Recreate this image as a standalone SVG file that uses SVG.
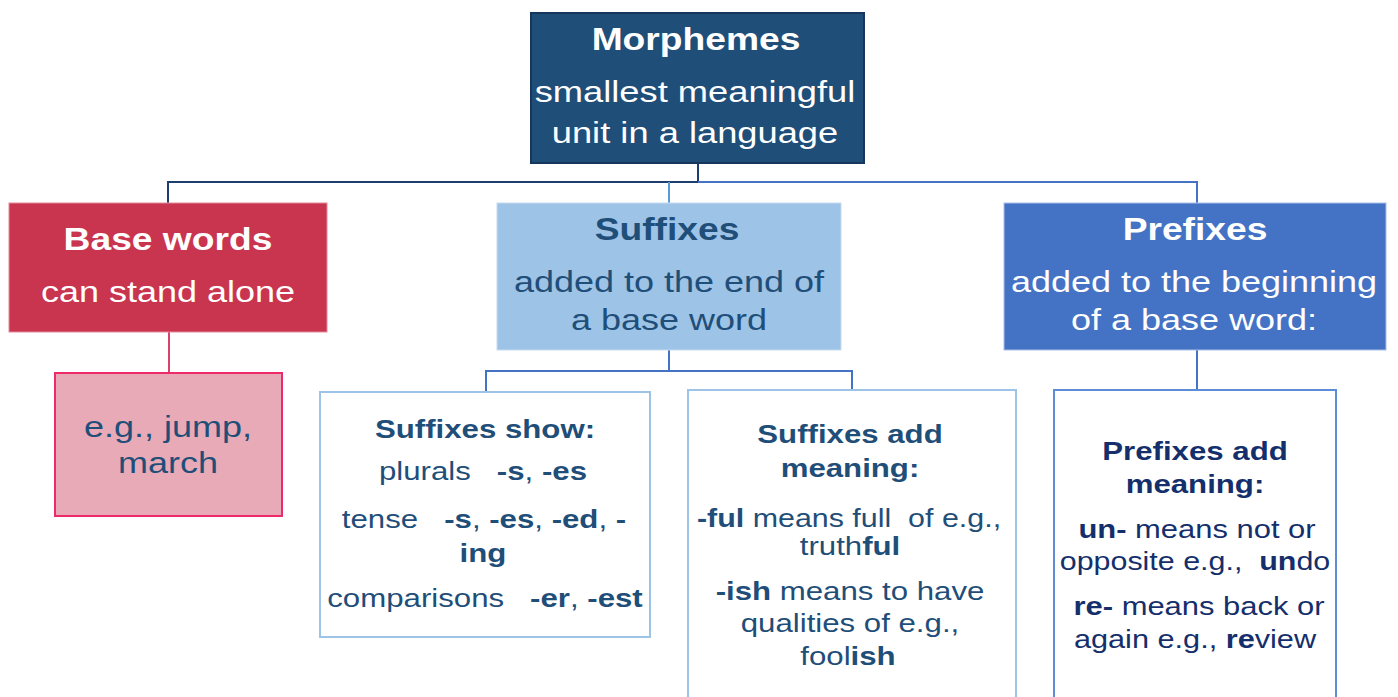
<svg xmlns="http://www.w3.org/2000/svg" width="1398" height="697" viewBox="0 0 1398 697">
<style>
text{font-family:"Liberation Sans",Arial,sans-serif;text-anchor:middle}
.w{fill:#ffffff}
.n{fill:#1f4e79}
.d{fill:#142f6b}
.b{font-weight:bold}
.t1{font-size:31px}
.t2{font-size:30px}
.s1{font-size:26px}
.s2{font-size:26px}
.conn line{stroke-width:2;fill:none}
</style>
<rect width="1398" height="697" fill="#ffffff"/>
<g id="connectors" class="conn">
<line x1="698" y1="163" x2="698" y2="182" stroke="#1f3e70"/>
<line x1="167" y1="182" x2="698" y2="182" stroke="#1f3e70"/>
<line x1="698" y1="182" x2="1198" y2="182" stroke="#4472c4"/>
<line x1="168" y1="181" x2="168" y2="203" stroke="#1f3e70"/>
<line x1="669" y1="182" x2="669" y2="203" stroke="#5b9bd5"/>
<line x1="1197" y1="181" x2="1197" y2="203" stroke="#4472c4"/>
<line x1="169" y1="332" x2="169" y2="373" stroke="#d9436a"/>
<line x1="669" y1="350" x2="669" y2="371" stroke="#4472c4"/>
<line x1="485" y1="371" x2="853" y2="371" stroke="#4472c4"/>
<line x1="486" y1="370" x2="486" y2="392" stroke="#4472c4"/>
<line x1="852" y1="370" x2="852" y2="390" stroke="#4472c4"/>
<line x1="1197" y1="350" x2="1197" y2="390" stroke="#4472c4"/>
</g>
<g id="morphemes">
<rect x="531" y="13" width="333" height="150" fill="#1f4e79" stroke="#16365c" stroke-width="2"/>
<text class="w b t1" transform="translate(696,0) scale(1.2,1)" x="0" y="50">Morphemes</text>
<text class="w t2" transform="translate(695,0) scale(1.21,1)" x="0" y="102">smallest meaningful</text>
<text class="w t2" transform="translate(695,0) scale(1.21,1)" x="0" y="143">unit in a language</text>
</g>
<g id="base-words">
<rect x="9" y="203" width="318" height="129" fill="#c9344f" stroke="#e58a9c" stroke-width="1"/>
<text class="w b t1" transform="translate(168,0) scale(1.2,1)" x="0" y="250">Base words</text>
<text class="w t2" transform="translate(168,0) scale(1.2,1)" x="0" y="302">can stand alone</text>
</g>
<g id="base-example">
<rect x="55" y="373" width="227" height="143" fill="#e8aab6" stroke="#ee2b6a" stroke-width="2"/>
<text class="n t2" transform="translate(168,0) scale(1.2,1)" x="0" y="437">e.g., jump,</text>
<text class="n t2" transform="translate(168,0) scale(1.2,1)" x="0" y="473">march</text>
</g>
<g id="suffixes">
<rect x="497" y="203" width="344" height="147" fill="#9dc3e6" stroke="#c5dbef" stroke-width="1"/>
<text class="n b t1" transform="translate(667,0) scale(1.2,1)" x="0" y="240">Suffixes</text>
<text class="n t2" transform="translate(669,0) scale(1.2,1)" x="0" y="292">added to the end of</text>
<text class="n t2" transform="translate(669,0) scale(1.2,1)" x="0" y="330">a base word</text>
</g>
<g id="prefixes">
<rect x="1004" y="203" width="382" height="147" fill="#4472c4" stroke="#a9bfe6" stroke-width="1"/>
<text class="w b t1" transform="translate(1195,0) scale(1.2,1)" x="0" y="240">Prefixes</text>
<text class="w t2" transform="translate(1194,0) scale(1.2,1)" x="0" y="292">added to the beginning</text>
<text class="w t2" transform="translate(1194,0) scale(1.2,1)" x="0" y="330">of a base word:</text>
</g>
<g id="suffixes-show">
<rect x="320" y="392" width="330" height="245" fill="#ffffff" stroke="#9dc3e6" stroke-width="2"/>
<text class="n b s1" transform="translate(485,0) scale(1.2,1)" x="0" y="438">Suffixes show:</text>
<text class="n s2" transform="translate(483,0) scale(1.2,1)" x="0" y="480" xml:space="preserve">plurals   <tspan class="b">-s</tspan>, <tspan class="b">-es</tspan></text>
<text class="n s2" transform="translate(484,0) scale(1.2,1)" x="0" y="528" xml:space="preserve">tense   <tspan class="b">-s</tspan>, <tspan class="b">-es</tspan>, <tspan class="b">-ed</tspan>, <tspan class="b">-</tspan></text>
<text class="n b s2" transform="translate(483,0) scale(1.2,1)" x="0" y="562">ing</text>
<text class="n s2" transform="translate(485,0) scale(1.2,1)" x="0" y="607" xml:space="preserve">comparisons   <tspan class="b">-er</tspan>, <tspan class="b">-est</tspan></text>
</g>
<g id="suffixes-add">
<rect x="688" y="390" width="328" height="312" fill="#ffffff" stroke="#9dc3e6" stroke-width="2"/>
<text class="n b s1" transform="translate(850,0) scale(1.2,1)" x="0" y="443">Suffixes add</text>
<text class="n b s1" transform="translate(850,0) scale(1.2,1)" x="0" y="477">meaning:</text>
<text class="n s2" transform="translate(849,0) scale(1.17,1)" x="0" y="527" xml:space="preserve"><tspan class="b">-ful</tspan> means full  of e.g.,</text>
<text class="n s2" transform="translate(850,0) scale(1.2,1)" x="0" y="555">truth<tspan class="b">ful</tspan></text>
<text class="n s2" transform="translate(850,0) scale(1.2,1)" x="0" y="600"><tspan class="b">-ish</tspan> means to have</text>
<text class="n s2" transform="translate(850,0) scale(1.2,1)" x="0" y="632">qualities of e.g.,</text>
<text class="n s2" transform="translate(848,0) scale(1.2,1)" x="0" y="665">fool<tspan class="b">ish</tspan></text>
</g>
<g id="prefixes-add">
<rect x="1054" y="390" width="282" height="312" fill="#ffffff" stroke="#5b8ed6" stroke-width="2"/>
<text class="d b s1" transform="translate(1195,0) scale(1.2,1)" x="0" y="460">Prefixes add</text>
<text class="d b s1" transform="translate(1195,0) scale(1.2,1)" x="0" y="493">meaning:</text>
<text class="d s2" transform="translate(1197,0) scale(1.19,1)" x="0" y="538"><tspan class="b">un-</tspan> means not or</text>
<text class="d s2" transform="translate(1195,0) scale(1.17,1)" x="0" y="570" xml:space="preserve">opposite e.g.,  <tspan class="b">un</tspan>do</text>
<text class="d s2" transform="translate(1199,0) scale(1.19,1)" x="0" y="615"><tspan class="b">re-</tspan> means back or</text>
<text class="d s2" transform="translate(1195,0) scale(1.18,1)" x="0" y="648">again e.g., <tspan class="b">re</tspan>view</text>
</g>
</svg>
